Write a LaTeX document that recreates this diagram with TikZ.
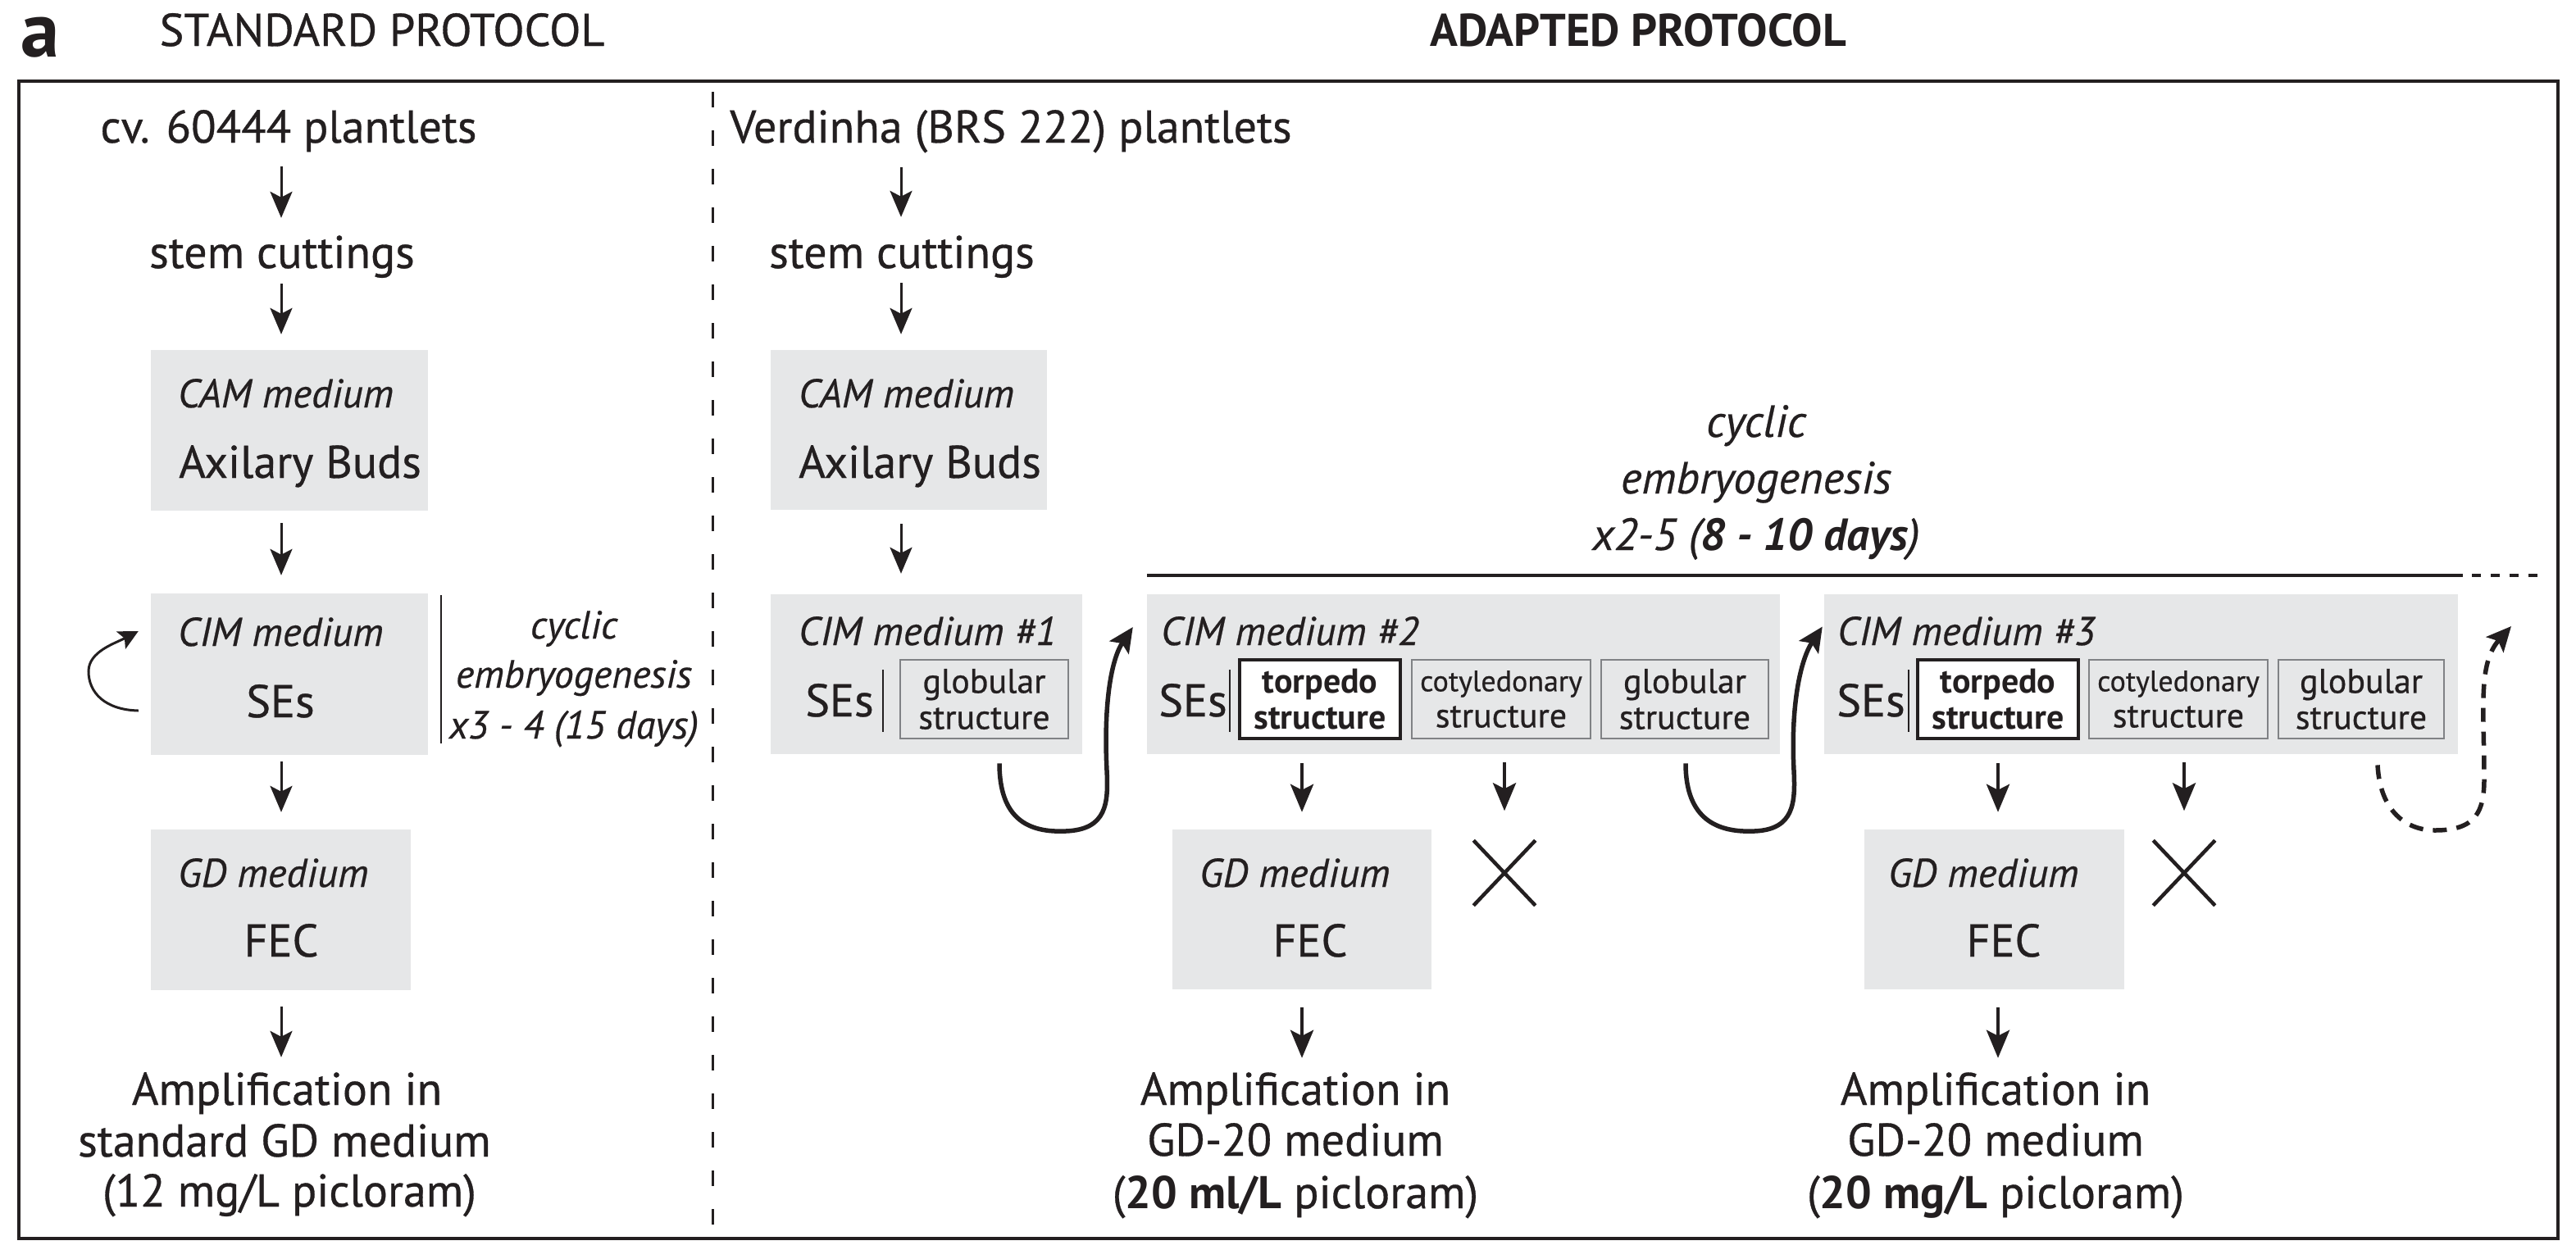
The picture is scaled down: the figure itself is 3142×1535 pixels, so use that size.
\documentclass[tikz,border=0pt]{standalone}
\usepackage{fontspec}
\setmainfont{PT Sans}[UprightFeatures={FakeBold=0.6},ItalicFeatures={FakeBold=0.5}]
\usetikzlibrary{arrows.meta,calc,shapes.misc}
\definecolor{boxgray}{RGB}{230,231,232}
\definecolor{sgray}{RGB}{128,130,133}
\definecolor{ink}{RGB}{35,31,32}
\begin{document}
\begin{tikzpicture}[x=1pt,y=-1pt,
  main/.style={inner sep=0pt, text depth=0pt, text height=40pt, anchor=base, font=\fontsize{56}{60}\selectfont, text=ink},
  lab/.style={inner sep=0pt, anchor=base west, font=\fontsize{49}{52}\selectfont\itshape, text=ink},
  cycl/.style={inner sep=0pt, anchor=base, font=\fontsize{48}{50}\selectfont\itshape, text=ink},
  cycr/.style={inner sep=0pt, anchor=base, font=\fontsize{55}{60}\selectfont\itshape, text=ink},
  mbox/.style={fill=boxgray, draw=none, inner sep=0pt},
  sbox/.style={draw=sgray, fill=boxgray, line width=2.8pt, minimum height=96pt, inner sep=0pt, align=center, font=\fontsize{42}{44}\selectfont, text=ink},
  tbox/.style={sbox, draw=ink, fill=white, line width=3.8pt, font=\fontsize{42}{44}\selectfont\bfseries},
  xmark/.style={draw=ink, cross out, line width=4.5pt, minimum width=71pt, minimum height=75pt, inner sep=0pt},
  arrL/.style={draw=ink, line width=3pt, -{Stealth[length=32pt,width=27pt,inset=7pt]}},
  arrT/.style={draw=ink, line width=4.5pt, -{Stealth[length=34pt,width=28pt,inset=7pt]}},
  curv/.style={draw=ink, line width=5.5pt, -{Stealth[length=30pt,width=28pt,inset=6pt]}},
  sep/.style={draw=ink, line width=2.6pt},
]
\useasboundingbox (0,0) rectangle (3142,1535);

% titles
\node[inner sep=0pt, anchor=base, font=\fontsize{95}{100}\selectfont\bfseries, text=ink] (lbla) at (49,69) {a};
\node[inner sep=0pt, anchor=base, font=\fontsize{56}{60}\selectfont, text=ink] (tstd) at (466,56) {STANDARD PROTOCOL};
\node[inner sep=0pt, anchor=base, font=\fontsize{56}{60}\selectfont\bfseries, text=ink] (tadp) at (1998,56) {ADAPTED PROTOCOL};

% frame and divider
\draw[draw=ink, line width=3.5pt] (23,99) rectangle (3120,1511);
\draw[draw=ink, line width=3pt, dash pattern=on 19pt off 28pt] (869,112) -- (869,1511);

% axes
\coordinate (axL) at (343,0);
\coordinate (axR) at (1099,0);
\coordinate (ax2) at (1588,0);
\coordinate (ax2c) at (1835,0);
\coordinate (ax3) at (2437,0);
\coordinate (ax3c) at (2664,0);

% ---------------- standard protocol ----------------
\node[main] (plantL) at (352,174) {cv. 60444 plantlets};
\node[main] (stemL) at (344,327) {stem cuttings};
\node[mbox, minimum width=338pt, minimum height=196pt] (camL) at (353,525) {};
\node[lab] (camLt) at (217,497) {CAM medium};
\node[main, anchor=base west] (camLb) at (218,583) {Axilary Buds};
\node[mbox, minimum width=338pt, minimum height=197pt] (cimL) at (353,822.5) {};
\node[lab] (cimLt) at (217,788) {CIM medium};
\node[main] (sesL) at (342,875) {SEs};
\draw[sep] (538,726) -- (538,907);
\node[cycl] (cycL1) at (700,779) {cyclic};
\node[cycl] (cycL2) at (700,839) {embryogenesis};
\node[cycl] (cycL3) at (700,901) {x3 - 4 (15 days)};
\node[mbox, minimum width=317pt, minimum height=196pt] (gdL) at (342.5,1110) {};
\node[lab] (gdLt) at (217,1082) {GD medium};
\node[main] (fecL) at (343,1167) {FEC};
\node[main] (ampL1) at (350,1348) {Amplification in};
\node[main] (ampL2) at (347,1411) {standard GD medium};
\node[main] (ampL3) at (353,1472) {(12 mg/L picloram)};

\draw[arrL, shorten <=29pt, shorten >=21pt] (plantL.south -| axL) -- (stemL.north -| axL);
\draw[arrL, shorten <=19pt, shorten >=19pt] (stemL.south -| axL) -- (camL.north -| axL);
\draw[arrL, shorten <=15pt, shorten >=22pt] (camL.south -| axL) -- (cimL.north -| axL);
\draw[arrL, shorten <=8pt, shorten >=21pt] (cimL.south -| axL) -- (gdL.north -| axL);
\draw[arrL, shorten <=20pt, shorten >=18pt] (gdL.south -| axL) -- (ampL1.north -| axL);
\draw[draw=ink, line width=3pt, -{Stealth[length=24pt,width=24pt,inset=5pt]}]
  ($(cimL.west)+(-15,44.5)$) .. controls (128,866) and (108,845) .. (108,819)
  .. controls (108,795) and (140,785) .. ($(cimL.west)+(-15,-52.5)$);

% ---------------- adapted protocol ----------------
\node[main] (plantR) at (1233,174) {Verdinha (BRS 222) plantlets};
\node[main] (stemR) at (1100,327) {stem cuttings};
\node[mbox, minimum width=337pt, minimum height=195pt] (camR) at (1108.5,524.5) {};
\node[lab] (camRt) at (974,497) {CAM medium};
\node[main, anchor=base west] (camRb) at (974,583) {Axilary Buds};

\draw[arrL, shorten <=30pt, shorten >=22pt] (plantR.south -| axR) -- (stemR.north -| axR);
\draw[arrL, shorten <=18pt, shorten >=19pt] (stemR.south -| axR) -- (camR.north -| axR);

% cyclic embryogenesis bracket
\node[cycr] (cycR1) at (2142,533) {cyclic};
\node[cycr] (cycR2) at (2142,602) {embryogenesis};
\node[cycr] (cycR3) at (2142,671) {x2-5 (\textbf{8 - 10 days})};
\draw[draw=ink, line width=3.5pt] (1399,702) -- (3004,702);
\draw[draw=ink, line width=3.5pt, dash pattern=on 11pt off 12pt] (3015,702) -- (3101,702);

% CIM #1
\node[mbox, minimum width=380pt, minimum height=195pt] (cim1) at (1130,822.5) {};
\node[lab] (cim1t) at (974,787) {CIM medium \#1};
\node[main] (ses1) at (1024,874) {SEs};
\draw[sep] (1077,817) -- (1077,893);
\node[sbox, minimum width=205pt] (glob1) at (1200.5,853) {globular\\structure};
\draw[arrL, shorten <=17pt, shorten >=25pt] (camR.south -| axR) -- (cim1.north -| axR);

% CIM #2
\node[mbox, minimum width=772pt, minimum height=195pt] (cim2) at (1785,822.5) {};
\node[lab] (cim2t) at (1416,787) {CIM medium \#2};
\node[main] (ses2) at (1455,874) {SEs};
\draw[sep] (1500,817) -- (1500,893);
\node[tbox, minimum width=196pt] (torp2) at (1610,853) {torpedo\\structure};
\node[sbox, minimum width=218pt] (coty2) at (1831,853) {{\fontsize{36}{44}\selectfont cotyledonary}\\structure};
\node[sbox, minimum width=204pt] (glob2) at (2055,853) {globular\\structure};

% CIM #3
\node[mbox, minimum width=773pt, minimum height=195pt] (cim3) at (2611.5,822.5) {};
\node[lab] (cim3t) at (2241,787) {CIM medium \#3};
\node[main] (ses3) at (2282,874) {SEs};
\draw[sep] (2328,817) -- (2328,893);
\node[tbox, minimum width=196pt] (torp3) at (2437,853) {torpedo\\structure};
\node[sbox, minimum width=218pt] (coty3) at (2657,853) {{\fontsize{36}{44}\selectfont cotyledonary}\\structure};
\node[sbox, minimum width=202pt] (glob3) at (2880,853) {globular\\structure};

% GD #2 and #3
\node[mbox, minimum width=316pt, minimum height=195pt] (gd2) at (1588,1109.5) {};
\node[lab] (gd2t) at (1463,1082) {GD medium};
\node[main] (fec2) at (1598,1167) {FEC};
\node[xmark] (x2) at (1835,1065) {};
\node[main] (amp2a) at (1580,1348) {Amplification in};
\node[main] (amp2b) at (1580,1410) {GD-20 medium};
\node[main] (amp2c) at (1580,1474) {(\textbf{20 ml/L} picloram)};

\node[mbox, minimum width=317pt, minimum height=195pt] (gd3) at (2432.5,1109.5) {};
\node[lab] (gd3t) at (2303,1082) {GD medium};
\node[main] (fec3) at (2444,1167) {FEC};
\node[xmark] (x3) at (2664,1065) {};
\node[main] (amp3a) at (2434,1348) {Amplification in};
\node[main] (amp3b) at (2434,1410) {GD-20 medium};
\node[main] (amp3c) at (2434,1474) {(\textbf{20 mg/L} picloram)};

\draw[arrT, shorten <=28pt, shorten >=21pt] (torp2.south -| ax2) -- (gd2.north -| ax2);
\draw[arrT, shorten <=28pt, shorten >=36pt] (coty2.south -| ax2c) -- (x2.north -| ax2c);
\draw[arrT, shorten <=22pt, shorten >=17pt] (gd2.south -| ax2) -- (amp2a.north -| ax2);
\draw[arrT, shorten <=28pt, shorten >=21pt] (torp3.south -| ax3) -- (gd3.north -| ax3);
\draw[arrT, shorten <=28pt, shorten >=36pt] (coty3.south -| ax3c) -- (x3.north -| ax3c);
\draw[arrT, shorten <=22pt, shorten >=17pt] (gd3.south -| ax3) -- (amp3a.north -| ax3);

% cycling arrows
\draw[curv] ($(glob1.south)+(18.5,29)$) .. controls (1219,1000) and (1255,1016) .. (1300,1014)
  .. controls (1350,1012) and (1352,980) .. (1350,940)
  .. controls (1346,860) and (1355,805) .. ($(cim2.west)+(-17,-57.5)$);
\draw[curv] ($(glob2.south)+(1,29)$) .. controls (2056,1000) and (2095,1016) .. (2140,1014)
  .. controls (2188,1012) and (2190,980) .. (2188,940)
  .. controls (2184,860) and (2196,805) .. ($(cim3.west)+(-2,-58)$);
\coordinate (nextcim) at (3063,764);
\draw[curv, dash pattern=on 17pt off 12pt] ($(glob3.south)+(20,31)$) .. controls (2903,990) and (2935,1013) .. (2970,1013)
  .. controls (3020,1013) and (3030,990) .. (3030,950)
  .. controls (3030,865) and (3022,810) .. (nextcim);
\end{tikzpicture}
\end{document}
